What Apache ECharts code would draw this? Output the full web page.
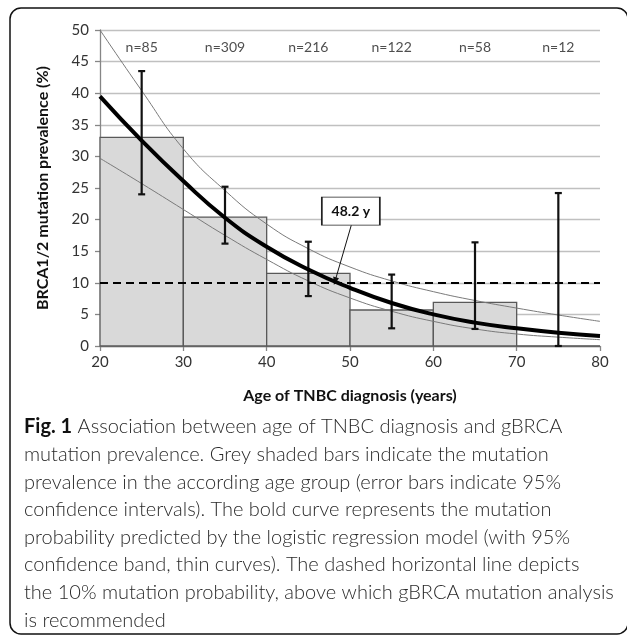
<!DOCTYPE html>
<html>
<head>
<meta charset="utf-8">
<script src="https://cdn.jsdelivr.net/npm/echarts@6/dist/echarts.min.js"></script>
<style>
  html, body { margin: 0; padding: 0; background: #fff; }
  #chart { width: 627px; height: 637px; }
</style>
</head>
<body>
<div id="chart"></div>
<script>
// age groups (start of each 10-year bin) and observed prevalence (%)
const binStart = [20, 30, 40, 50, 60, 70];
const prevalence = [33.0, 20.4, 11.5, 5.7, 6.9, 0];
const ciLow = [24.0, 16.2, 7.9, 2.8, 2.7, 0];
const ciHigh = [43.5, 25.2, 16.5, 11.3, 16.4, 24.2];
const groupN = ["n=85", "n=309", "n=216", "n=122", "n=58", "n=12"];

// logistic regression curve and 95% band
const curveAge = [20, 25, 30, 35, 40, 45, 50, 55, 60, 65, 70, 75, 80];
const fitted = [39.5, 32.5, 26.1, 20.3, 15.7, 12.1, 9.2, 6.8, 5.0, 3.7, 2.8, 2.1, 1.6];
const bandUpper = [50, 40.4, 31.2, 24.6, 19.3, 15.4, 12.5, 10.3, 8.6, 7.2, 6.0, 4.9, 3.9];
const bandLower = [29.7, 25.7, 21.6, 17.5, 13.7, 10.3, 7.6, 5.5, 3.9, 2.7, 1.9, 1.4, 1.0];

const cutoff = 10;
const cutoffAge = 48.2;
const nLabelY = 47.3;

const captionLines = [
  "{b|Fig. 1} Association between age of TNBC diagnosis and gBRCA",
  "mutation prevalence. Grey shaded bars indicate the mutation",
  "prevalence in the according age group (error bars indicate 95%",
  "confidence intervals). The bold curve represents the mutation",
  "probability predicted by the logistic regression model (with 95%",
  "confidence band, thin curves). The dashed horizontal line depicts",
  "the 10% mutation probability, above which gBRCA mutation analysis",
  "is recommended"
];

const font = "Lato, 'Open Sans', sans-serif";
var myChart = echarts.init(document.getElementById("chart"));

const zip = (xs, ys) => xs.map((x, i) => [x, ys[i]]);

const caption = captionLines.map((t, i) => ({
  type: "text",
  left: 24,
  top: 417 + i * 27.6,
  style: {
    text: t,
    fontFamily: font,
    fontSize: 20,
    fontWeight: 300,
    fill: "#2a2a2a",
    rich: { b: { fontFamily: font, fontSize: 20, fontWeight: "bold", fill: "#111" } }
  }
}));

myChart.setOption({
  animation: false,
  backgroundColor: "#fff",
  grid: { left: 100, right: 27, top: 30, bottom: 291 },
  xAxis: {
    type: "value",
    min: 20,
    max: 80,
    interval: 10,
    name: "Age of TNBC diagnosis (years)",
    nameLocation: "middle",
    nameGap: 42,
    nameTextStyle: { fontFamily: font, fontSize: 16, fontWeight: "bold", color: "#111" },
    axisLine: { lineStyle: { color: "#868686", width: 1.3 } },
    axisTick: { show: true, length: 5, lineStyle: { color: "#868686", width: 1.3 } },
    axisLabel: { fontFamily: font, fontSize: 15, color: "#333", margin: 9 },
    splitLine: { show: false }
  },
  yAxis: {
    type: "value",
    min: 0,
    max: 50,
    interval: 5,
    name: "BRCA1/2 mutation prevalence (%)",
    nameLocation: "middle",
    nameGap: 49,
    nameTextStyle: { fontFamily: font, fontSize: 16, fontWeight: "bold", color: "#111" },
    axisLine: { show: true, lineStyle: { color: "#868686", width: 1.3 } },
    axisTick: { show: true, length: 5, lineStyle: { color: "#868686", width: 1.3 } },
    axisLabel: { fontFamily: font, fontSize: 15, color: "#333", margin: 11 },
    splitLine: { lineStyle: { color: "#c0c0c0", width: 1.3 } }
  },
  graphic: [
    {
      type: "rect",
      shape: { x: 10, y: 8, width: 618, height: 626, r: 11 },
      style: { fill: "none", stroke: "#111", lineWidth: 1.5 },
      z: 100
    }
  ].concat(caption),
  series: [
    {
      type: "custom",
      name: "bars",
      z: 2,
      data: binStart.map((s, i) => [s, s + 10, prevalence[i]]),
      renderItem(params, api) {
        const p0 = api.coord([api.value(0), api.value(2)]);
        const p1 = api.coord([api.value(1), 0]);
        return {
          type: "rect",
          shape: { x: p0[0], y: p0[1], width: p1[0] - p0[0], height: p1[1] - p0[1] },
          style: { fill: "#d9d9d9", stroke: "#595959", lineWidth: 1.3 }
        };
      }
    },
    {
      type: "line",
      name: "upper",
      z: 3,
      data: zip(curveAge, bandUpper),
      smooth: true,
      showSymbol: false,
      lineStyle: { color: "#7a7a7a", width: 1 }
    },
    {
      type: "line",
      name: "lower",
      z: 3,
      data: zip(curveAge, bandLower),
      smooth: true,
      showSymbol: false,
      lineStyle: { color: "#7a7a7a", width: 1 }
    },
    {
      type: "custom",
      name: "errors",
      z: 4,
      data: binStart.map((s, i) => [s + 5, ciLow[i], ciHigh[i]]),
      renderItem(params, api) {
        const lo = api.coord([api.value(0), api.value(1)]);
        const hi = api.coord([api.value(0), api.value(2)]);
        const st = { stroke: "#111", lineWidth: 2.2 };
        const cap = 3.5;
        return {
          type: "group",
          children: [
            { type: "line", shape: { x1: lo[0], y1: lo[1], x2: hi[0], y2: hi[1] }, style: st },
            { type: "line", shape: { x1: lo[0] - cap, y1: lo[1], x2: lo[0] + cap, y2: lo[1] }, style: st },
            { type: "line", shape: { x1: hi[0] - cap, y1: hi[1], x2: hi[0] + cap, y2: hi[1] }, style: st }
          ]
        };
      }
    },
    {
      type: "line",
      name: "fit",
      z: 5,
      data: zip(curveAge, fitted),
      smooth: true,
      showSymbol: false,
      lineStyle: { color: "#000", width: 4 },
      markLine: {
        silent: true,
        symbol: "none",
        label: { show: false },
        lineStyle: { color: "#000", width: 2, type: [8, 5] },
        data: [{ yAxis: cutoff }]
      }
    },
    {
      type: "scatter",
      name: "counts",
      z: 6,
      symbolSize: 0,
      data: binStart.map((s, i) => ({ value: [s + 5, nLabelY], name: groupN[i] })),
      label: {
        show: true,
        position: "inside",
        formatter: (p) => p.name,
        fontFamily: font,
        fontSize: 14,
        color: "#222"
      }
    },
    {
      type: "line",
      name: "annotation",
      z: 7,
      data: [],
      markLine: {
        silent: true,
        symbol: ["none", "triangle"],
        symbolSize: [6, 8],
        label: { show: false },
        lineStyle: { color: "#111", width: 1, type: "solid" },
        data: [[{ coord: [50.15, 19.1] }, { coord: [cutoffAge, cutoff + 0.25] }]]
      },
      markPoint: {
        silent: true,
        data: [{
          coord: [50.1, 21.35],
          symbol: "rect",
          symbolSize: [58, 28],
          itemStyle: { color: "#fff", borderColor: "#222", borderWidth: 1.2 },
          label: {
            show: true,
            position: "inside",
            formatter: cutoffAge + " y",
            fontFamily: font,
            fontSize: 14,
            fontWeight: "bold",
            color: "#111"
          }
        }]
      }
    }
  ]
});
</script>
</body>
</html>
